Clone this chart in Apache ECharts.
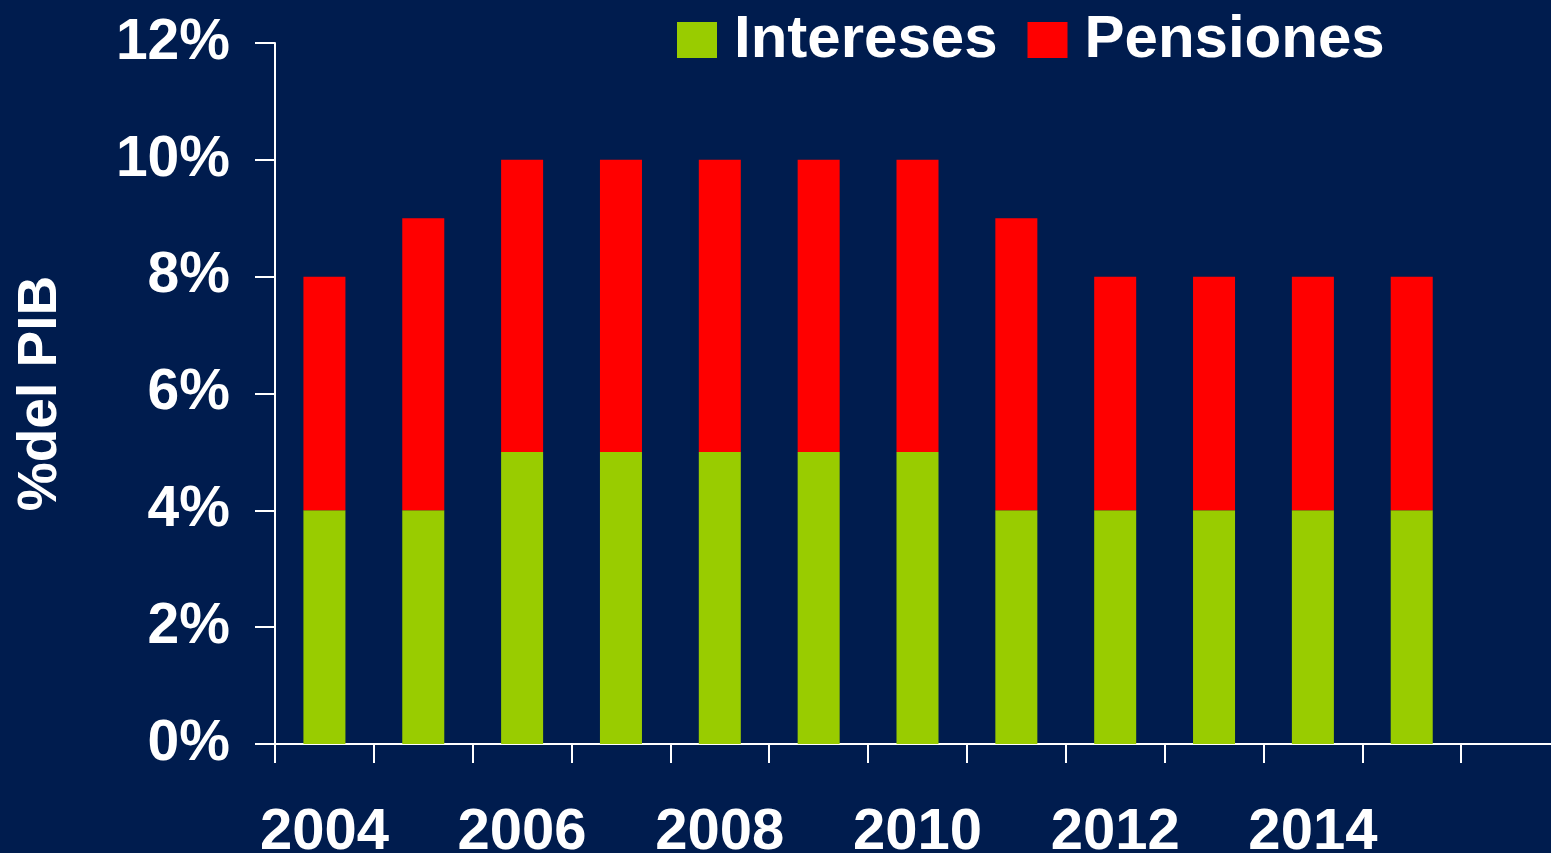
<!DOCTYPE html>
<html>
<head>
<meta charset="utf-8">
<script src="https://cdn.jsdelivr.net/npm/echarts@6/dist/echarts.min.js"></script>
<style>
html,body{margin:0;padding:0;background:#001c4e;}
#chart{width:1551px;height:853px;}
</style>
</head>
<body>
<div id="chart"></div>
<script>
const categories = ['2004','2005','2006','2007','2008','2009','2010','2011','2012','2013','2014','2015',''];
const intereses = [4,4,5,5,5,5,5,4,4,4,4,4,null];
const pensiones = [4,5,5,5,5,5,5,5,4,4,4,4,null];
const seriesNames = ['Intereses','Pensiones'];
const yAxisTitle = '%del PIB';

const font = '"Liberation Sans", Arial, sans-serif';
const chart = echarts.init(document.getElementById('chart'));
chart.setOption({
  backgroundColor: '#001c4e',
  animation: false,
  textStyle: {fontFamily: font},
  legend: {
    left: 672, top: 5,
    itemWidth: 40, itemHeight: 36, itemGap: 30,
    icon: 'rect',
    textStyle: {color: '#fff', fontSize: 60, fontWeight: 'bold', fontFamily: font, padding: [0,0,0,12]},
    data: seriesNames
  },
  grid: {left: 275, width: 1285, top: 43, height: 701, containLabel: false, outerBoundsMode: 'none'},
  xAxis: {
    type: 'category',
    data: categories,
    axisLine: {show: true, lineStyle: {color: '#fff', width: 2}},
    axisTick: {show: true, interval: 0, length: 19, lineStyle: {color: '#fff', width: 2}},
    axisLabel: {
      color: '#fff', fontSize: 58, fontWeight: 'bold', fontFamily: font, margin: 60,
      interval: 0,
      formatter: (v, i) => (i % 2 === 0 && v !== '') ? v : ''
    }
  },
  yAxis: {
    type: 'value', min: 0, max: 12, interval: 2,
    name: yAxisTitle, nameLocation: 'middle', nameRotate: 90, nameGap: 207,
    nameTextStyle: {color: '#fff', fontSize: 55, fontWeight: 'bold', fontFamily: font},
    splitLine: {show: false},
    axisLine: {show: true, lineStyle: {color: '#fff', width: 2}},
    axisTick: {show: true, length: 20, lineStyle: {color: '#fff', width: 2}},
    axisLabel: {color: '#fff', fontSize: 57, fontWeight: 'bold', fontFamily: font, margin: 45,
      formatter: v => v + '%'}
  },
  series: [
    {name: seriesNames[0], type: 'bar', stack: 't', data: intereses, barWidth: '42.5%', itemStyle: {color: '#99cc00'}},
    {name: seriesNames[1], type: 'bar', stack: 't', data: pensiones, barWidth: '42.5%', itemStyle: {color: '#ff0000'}}
  ]
});
</script>
</body>
</html>
